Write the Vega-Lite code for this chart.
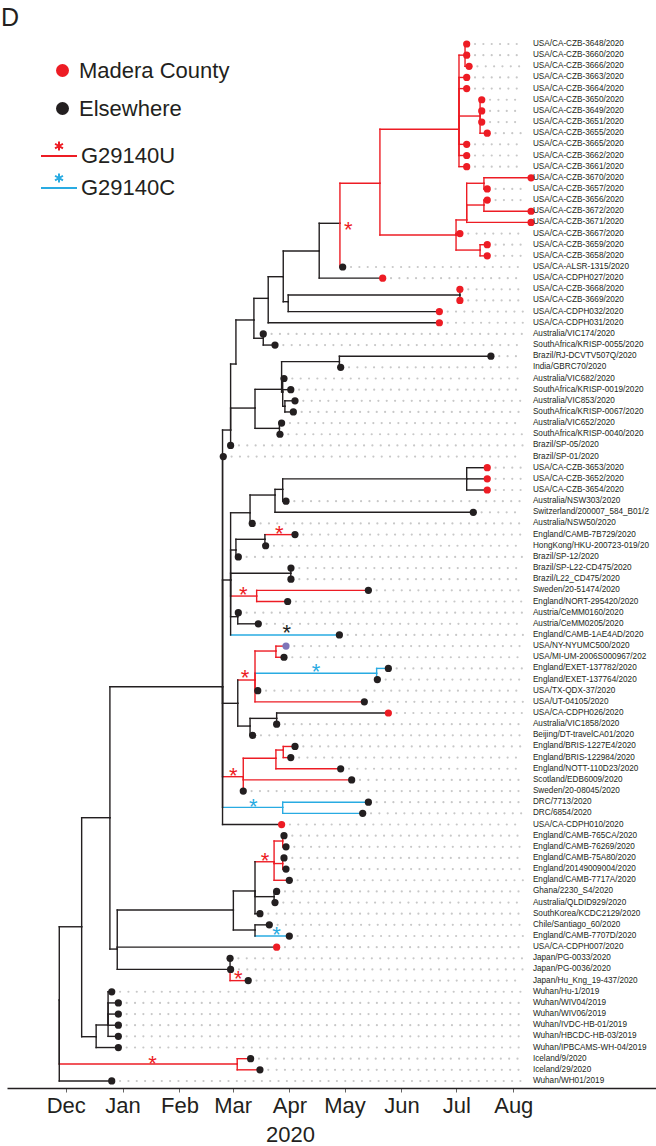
{
  "$schema": "https://vega.github.io/schema/vega-lite/v6.json",
  "width": 649,
  "height": 1058,
  "autosize": {"type": "none"},
  "padding": {"left": 7, "top": 30, "right": 0, "bottom": 58},
  "background": "white",
  "config": {"view": {"stroke": null}, "font": "Liberation Sans", "axis": {"grid": false}},
  "title": {"text": "D", "anchor": "start", "frame": "group", "fontSize": 25, "fontWeight": "normal", "color": "#231f20", "offset": -21, "baseline": "alphabetic", "dx": -6},
  "datasets": {
    "nodes": [
      {"id": "root", "t": -3.5, "y": 86.74},
      {"id": "M4", "parent": "root", "t": 8.7, "y": 80.17},
      {"id": "M2", "parent": "M4", "t": 24.1, "y": 70.39},
      {"id": "M1", "parent": "M2", "t": 85.5, "y": 58.64},
      {"id": "M3", "parent": "M2", "t": 28.1, "y": 82.17},
      {"id": "W1", "parent": "M4", "t": 16.6, "y": 90.03},
      {"id": "W2", "parent": "W1", "t": 23.1, "y": 88.98},
      {"id": "I", "parent": "root", "t": 93.5, "y": 92.48, "mut": "G29140U"},
      {"id": "N", "parent": "M3", "t": 91.4, "y": 78.67},
      {"id": "J", "parent": "M3", "t": 89.6, "y": 83.99},
      {"id": "N1", "parent": "N", "t": 103.2, "y": 76.96},
      {"id": "N2", "parent": "N", "t": 103.2, "y": 80.46},
      {"id": "R2", "parent": "N1", "t": 113.6, "y": 74.34, "mut": "G29140U"},
      {"id": "GQ", "parent": "N1", "t": 113.6, "y": 77.47},
      {"id": "S1", "parent": "R2", "t": 118.3, "y": 72.48, "mut": "G29140U"},
      {"id": "S2", "parent": "R2", "t": 118.3, "y": 74.5, "mut": "G29140U"},
      {"id": "Z2", "parent": "M1", "t": 89.9, "y": 35.62},
      {"id": "k", "parent": "M1", "t": 89.9, "y": 49.07},
      {"id": "q", "parent": "M1", "t": 93.8, "y": 60.13},
      {"id": "w", "parent": "M1", "t": 96.8, "y": 66.71, "mut": "G29140U"},
      {"id": "DRC", "parent": "M1", "t": 118.3, "y": 69.46, "mut": "G29140C"},
      {"id": "Z", "parent": "Z2", "t": 92.8, "y": 29.7},
      {"id": "X", "parent": "Z", "t": 102.6, "y": 25.75},
      {"id": "e", "parent": "Z2", "t": 103.2, "y": 33.65},
      {"id": "Wn", "parent": "X", "t": 110.4, "y": 23.81},
      {"id": "Y", "parent": "X", "t": 107.7, "y": 27.39},
      {"id": "T", "parent": "Wn", "t": 118.6, "y": 21.87},
      {"id": "S", "parent": "T", "t": 138.2, "y": 19.57},
      {"id": "V", "parent": "T", "t": 121.3, "y": 24.11},
      {"id": "R", "parent": "S", "t": 149.5, "y": 17.08},
      {"id": "P", "parent": "R", "t": 171.3, "y": 13.49, "mut": "G29140U", "vmut": "G29140U"},
      {"id": "A", "parent": "P", "t": 214.4, "y": 8.65, "mut": "G29140U"},
      {"id": "D", "parent": "P", "t": 212.8, "y": 18.13, "mut": "G29140U"},
      {"id": "B", "parent": "A", "t": 217.7, "y": 2, "mut": "G29140U"},
      {"id": "C", "parent": "A", "t": 225.9, "y": 7.46, "mut": "G29140U"},
      {"id": "G", "parent": "D", "t": 218.6, "y": 16.78, "mut": "G29140U"},
      {"id": "H", "parent": "D", "t": 225.9, "y": 19.48, "mut": "G29140U"},
      {"id": "E", "parent": "G", "t": 228.0, "y": 13.49, "mut": "G29140U"},
      {"id": "F", "parent": "G", "t": 228.0, "y": 15.44, "mut": "G29140U"},
      {"id": "U", "parent": "V", "t": 214.9, "y": 23.51},
      {"id": "b", "parent": "e", "t": 117.7, "y": 31.97},
      {"id": "f", "parent": "e", "t": 116.5, "y": 35.47},
      {"id": "a", "parent": "b", "t": 149.2, "y": 29.49},
      {"id": "d", "parent": "b", "t": 118.3, "y": 32.21},
      {"id": "c", "parent": "d", "t": 119.5, "y": 33.49},
      {"id": "j", "parent": "k", "t": 100.5, "y": 43.04},
      {"id": "i", "parent": "j", "t": 114.1, "y": 41.45},
      {"id": "g", "parent": "i", "t": 118.3, "y": 40.94},
      {"id": "h", "parent": "g", "t": 218.6, "y": 40},
      {"id": "m", "parent": "k", "t": 92.8, "y": 46.38},
      {"id": "l", "parent": "m", "t": 108.6, "y": 45.42},
      {"id": "n", "parent": "k", "t": 122.7, "y": 48.47},
      {"id": "o", "parent": "k", "t": 104.1, "y": 50.51, "mut": "G29140U"},
      {"id": "p", "parent": "k", "t": 93.8, "y": 52.36},
      {"id": "r", "parent": "q", "t": 103.2, "y": 58.04, "mut": "G29140U"},
      {"id": "s", "parent": "q", "t": 100.5, "y": 62.17},
      {"id": "tt", "parent": "r", "t": 114.6, "y": 55.44, "mut": "G29140U"},
      {"id": "u", "parent": "r", "t": 169.5, "y": 57.44, "mut": "G29140C"},
      {"id": "v", "parent": "s", "t": 115.0, "y": 61.48},
      {"id": "x1", "parent": "w", "t": 114.6, "y": 65.06, "mut": "G29140U"},
      {"id": "y1", "parent": "x1", "t": 118.6, "y": 64.32, "mut": "G29140U"},

      {"id": "USA/CA-CZB-3648/2020", "parent": "B", "t": 218.6, "y": 1, "mut": "G29140U", "loc": "Madera County"},
      {"id": "USA/CA-CZB-3660/2020", "parent": "B", "t": 218.6, "y": 2, "mut": "G29140U", "loc": "Madera County"},
      {"id": "USA/CA-CZB-3666/2020", "parent": "B", "t": 219.9, "y": 3, "mut": "G29140U", "loc": "Madera County"},
      {"id": "USA/CA-CZB-3663/2020", "parent": "A", "t": 218.6, "y": 4, "mut": "G29140U", "loc": "Madera County"},
      {"id": "USA/CA-CZB-3664/2020", "parent": "A", "t": 218.6, "y": 5, "mut": "G29140U", "loc": "Madera County"},
      {"id": "USA/CA-CZB-3650/2020", "parent": "C", "t": 226.8, "y": 6, "mut": "G29140U", "loc": "Madera County"},
      {"id": "USA/CA-CZB-3649/2020", "parent": "C", "t": 226.8, "y": 7, "mut": "G29140U", "loc": "Madera County"},
      {"id": "USA/CA-CZB-3651/2020", "parent": "C", "t": 226.8, "y": 8, "mut": "G29140U", "loc": "Madera County"},
      {"id": "USA/CA-CZB-3655/2020", "parent": "C", "t": 229.8, "y": 9, "mut": "G29140U", "loc": "Madera County"},
      {"id": "USA/CA-CZB-3665/2020", "parent": "A", "t": 218.6, "y": 10, "mut": "G29140U", "loc": "Madera County"},
      {"id": "USA/CA-CZB-3662/2020", "parent": "A", "t": 218.6, "y": 11, "mut": "G29140U", "loc": "Madera County"},
      {"id": "USA/CA-CZB-3661/2020", "parent": "A", "t": 218.6, "y": 12, "mut": "G29140U", "loc": "Madera County"},
      {"id": "USA/CA-CZB-3670/2020", "parent": "E", "t": 253.7, "y": 13, "mut": "G29140U", "loc": "Madera County"},
      {"id": "USA/CA-CZB-3657/2020", "parent": "E", "t": 229.8, "y": 14, "mut": "G29140U", "loc": "Madera County"},
      {"id": "USA/CA-CZB-3656/2020", "parent": "F", "t": 229.8, "y": 15, "mut": "G29140U", "loc": "Madera County"},
      {"id": "USA/CA-CZB-3672/2020", "parent": "F", "t": 253.7, "y": 16, "mut": "G29140U", "loc": "Madera County"},
      {"id": "USA/CA-CZB-3671/2020", "parent": "G", "t": 253.7, "y": 17, "mut": "G29140U", "loc": "Madera County"},
      {"id": "USA/CA-CZB-3667/2020", "parent": "D", "t": 214.9, "y": 18, "mut": "G29140U", "loc": "Madera County"},
      {"id": "USA/CA-CZB-3659/2020", "parent": "H", "t": 229.8, "y": 19, "mut": "G29140U", "loc": "Madera County"},
      {"id": "USA/CA-CZB-3658/2020", "parent": "H", "t": 229.8, "y": 20, "mut": "G29140U", "loc": "Madera County"},
      {"id": "USA/CA-ALSR-1315/2020", "parent": "R", "t": 151.0, "y": 21, "mut": "G29140U", "vmut": "G29140U", "loc": "Elsewhere"},
      {"id": "USA/CA-CDPH027/2020", "parent": "S", "t": 172.8, "y": 22, "loc": "Madera County"},
      {"id": "USA/CA-CZB-3668/2020", "parent": "U", "t": 214.9, "y": 23, "loc": "Madera County"},
      {"id": "USA/CA-CZB-3669/2020", "parent": "U", "t": 214.9, "y": 24, "loc": "Madera County"},
      {"id": "USA/CA-CDPH032/2020", "parent": "V", "t": 203.7, "y": 25, "loc": "Madera County"},
      {"id": "USA/CA-CDPH031/2020", "parent": "Wn", "t": 203.7, "y": 26, "loc": "Madera County"},
      {"id": "Australia/VIC174/2020", "parent": "Y", "t": 107.7, "y": 27, "loc": "Elsewhere"},
      {"id": "SouthAfrica/KRISP-0055/2020", "parent": "Y", "t": 114.1, "y": 28, "loc": "Elsewhere"},
      {"id": "Brazil/RJ-DCVTV507Q/2020", "parent": "a", "t": 231.8, "y": 29, "loc": "Elsewhere"},
      {"id": "India/GBRC70/2020", "parent": "a", "t": 149.9, "y": 30, "loc": "Elsewhere"},
      {"id": "Australia/VIC682/2020", "parent": "d", "t": 119.0, "y": 31, "loc": "Elsewhere"},
      {"id": "SouthAfrica/KRISP-0019/2020", "parent": "d", "t": 122.7, "y": 32, "loc": "Elsewhere"},
      {"id": "Australia/VIC853/2020", "parent": "c", "t": 125.0, "y": 33, "loc": "Elsewhere"},
      {"id": "SouthAfrica/KRISP-0067/2020", "parent": "c", "t": 124.1, "y": 34, "loc": "Elsewhere"},
      {"id": "Australia/VIC652/2020", "parent": "f", "t": 117.7, "y": 35, "loc": "Elsewhere"},
      {"id": "SouthAfrica/KRISP-0040/2020", "parent": "f", "t": 116.8, "y": 36, "loc": "Elsewhere"},
      {"id": "Brazil/SP-05/2020", "parent": "Z2", "t": 89.9, "y": 37, "loc": "Elsewhere"},
      {"id": "Brazil/SP-01/2020", "parent": "M1", "t": 85.9, "y": 38, "loc": "Elsewhere"},
      {"id": "USA/CA-CZB-3653/2020", "parent": "h", "t": 229.8, "y": 39, "loc": "Madera County"},
      {"id": "USA/CA-CZB-3652/2020", "parent": "h", "t": 229.8, "y": 40, "loc": "Madera County"},
      {"id": "USA/CA-CZB-3654/2020", "parent": "h", "t": 229.8, "y": 41, "loc": "Madera County"},
      {"id": "Australia/NSW303/2020", "parent": "g", "t": 120.1, "y": 42, "loc": "Elsewhere"},
      {"id": "Switzerland/200007_584_B01/2", "parent": "i", "t": 222.2, "y": 43, "loc": "Elsewhere"},
      {"id": "Australia/NSW50/2020", "parent": "j", "t": 101.7, "y": 44, "loc": "Elsewhere"},
      {"id": "England/CAMB-7B729/2020", "parent": "l", "t": 125.0, "y": 45, "mut": "G29140U", "loc": "Elsewhere"},
      {"id": "HongKong/HKU-200723-019/20", "parent": "l", "t": 109.0, "y": 46, "loc": "Elsewhere"},
      {"id": "Brazil/SP-12/2020", "parent": "m", "t": 94.1, "y": 47, "loc": "Elsewhere"},
      {"id": "Brazil/SP-L22-CD475/2020", "parent": "n", "t": 122.8, "y": 48, "loc": "Elsewhere"},
      {"id": "Brazil/L22_CD475/2020", "parent": "n", "t": 122.8, "y": 49, "loc": "Elsewhere"},
      {"id": "Sweden/20-51474/2020", "parent": "o", "t": 165.0, "y": 50, "mut": "G29140U", "loc": "Elsewhere"},
      {"id": "England/NORT-295420/2020", "parent": "o", "t": 121.0, "y": 51, "mut": "G29140U", "loc": "Elsewhere"},
      {"id": "Austria/CeMM0160/2020", "parent": "p", "t": 94.1, "y": 52, "loc": "Elsewhere"},
      {"id": "Austria/CeMM0205/2020", "parent": "p", "t": 105.0, "y": 53, "loc": "Elsewhere"},
      {"id": "England/CAMB-1AE4AD/2020", "parent": "k", "t": 149.2, "y": 54, "mut": "G29140C", "loc": "Elsewhere"},
      {"id": "USA/NY-NYUMC500/2020", "parent": "tt", "t": 120.1, "y": 55, "mut": "G29140U", "loc": "Other"},
      {"id": "USA/MI-UM-2006S000967/202", "parent": "tt", "t": 119.0, "y": 56, "mut": "G29140U", "loc": "Elsewhere"},
      {"id": "England/EXET-137782/2020", "parent": "u", "t": 175.9, "y": 57, "mut": "G29140C", "loc": "Elsewhere"},
      {"id": "England/EXET-137764/2020", "parent": "u", "t": 169.9, "y": 58, "mut": "G29140C", "loc": "Elsewhere"},
      {"id": "USA/TX-QDX-37/2020", "parent": "r", "t": 104.7, "y": 59, "mut": "G29140U", "loc": "Elsewhere"},
      {"id": "USA/UT-04105/2020", "parent": "r", "t": 162.8, "y": 60, "mut": "G29140U", "loc": "Elsewhere"},
      {"id": "USA/CA-CDPH026/2020", "parent": "v", "t": 175.9, "y": 61, "loc": "Madera County"},
      {"id": "Australia/VIC1858/2020", "parent": "v", "t": 115.0, "y": 62, "loc": "Elsewhere"},
      {"id": "Beijing/DT-travelCA01/2020", "parent": "s", "t": 101.9, "y": 63, "loc": "Elsewhere"},
      {"id": "England/BRIS-1227E4/2020", "parent": "y1", "t": 125.0, "y": 64, "mut": "G29140U", "loc": "Elsewhere"},
      {"id": "England/BRIS-122984/2020", "parent": "y1", "t": 122.7, "y": 65, "mut": "G29140U", "loc": "Elsewhere"},
      {"id": "England/NOTT-110D23/2020", "parent": "x1", "t": 149.9, "y": 66, "mut": "G29140U", "loc": "Elsewhere"},
      {"id": "Scotland/EDB6009/2020", "parent": "w", "t": 155.9, "y": 67, "mut": "G29140U", "loc": "Elsewhere"},
      {"id": "Sweden/20-08045/2020", "parent": "w", "t": 96.8, "y": 68, "mut": "G29140U", "loc": "Elsewhere"},
      {"id": "DRC/7713/2020", "parent": "DRC", "t": 165.0, "y": 69, "mut": "G29140C", "loc": "Elsewhere"},
      {"id": "DRC/6854/2020", "parent": "DRC", "t": 161.9, "y": 70, "mut": "G29140C", "loc": "Elsewhere"},
      {"id": "USA/CA-CDPH010/2020", "parent": "M1", "t": 117.7, "y": 71, "loc": "Madera County"},
      {"id": "England/CAMB-765CA/2020", "parent": "S1", "t": 119.0, "y": 72, "mut": "G29140U", "loc": "Elsewhere"},
      {"id": "England/CAMB-76269/2020", "parent": "S1", "t": 120.1, "y": 73, "mut": "G29140U", "loc": "Elsewhere"},
      {"id": "England/CAMB-75A80/2020", "parent": "S2", "t": 119.0, "y": 74, "mut": "G29140U", "loc": "Elsewhere"},
      {"id": "England/20149009004/2020", "parent": "S2", "t": 120.1, "y": 75, "mut": "G29140U", "loc": "Elsewhere"},
      {"id": "England/CAMB-7717A/2020", "parent": "R2", "t": 121.9, "y": 76, "mut": "G29140U", "loc": "Elsewhere"},
      {"id": "Ghana/2230_S4/2020", "parent": "GQ", "t": 115.0, "y": 77, "loc": "Elsewhere"},
      {"id": "Australia/QLDID929/2020", "parent": "GQ", "t": 114.1, "y": 78, "loc": "Elsewhere"},
      {"id": "SouthKorea/KCDC2129/2020", "parent": "N1", "t": 105.9, "y": 79, "loc": "Elsewhere"},
      {"id": "Chile/Santiago_60/2020", "parent": "N2", "t": 111.0, "y": 80, "loc": "Elsewhere"},
      {"id": "England/CAMB-7707D/2020", "parent": "N2", "t": 121.9, "y": 81, "mut": "G29140C", "loc": "Elsewhere"},
      {"id": "USA/CA-CDPH007/2020", "parent": "M3", "t": 115.0, "y": 82, "loc": "Madera County"},
      {"id": "Japan/PG-0033/2020", "parent": "J", "t": 89.6, "y": 83, "loc": "Elsewhere"},
      {"id": "Japan/PG-0036/2020", "parent": "J", "t": 89.9, "y": 84, "loc": "Elsewhere"},
      {"id": "Japan/Hu_Kng_19-437/2020", "parent": "J", "t": 99.5, "y": 85, "mut": "G29140U", "vmut": "G29140U", "loc": "Elsewhere"},
      {"id": "Wuhan/Hu-1/2019", "parent": "W2", "t": 25.1, "y": 86, "loc": "Elsewhere"},
      {"id": "Wuhan/WIV04/2019", "parent": "W2", "t": 28.7, "y": 87, "loc": "Elsewhere"},
      {"id": "Wuhan/WIV06/2019", "parent": "W2", "t": 28.7, "y": 88, "loc": "Elsewhere"},
      {"id": "Wuhan/IVDC-HB-01/2019", "parent": "W2", "t": 28.7, "y": 89, "loc": "Elsewhere"},
      {"id": "Wuhan/HBCDC-HB-03/2019", "parent": "W2", "t": 28.7, "y": 90, "loc": "Elsewhere"},
      {"id": "Wuhan/IPBCAMS-WH-04/2019", "parent": "W1", "t": 28.7, "y": 91, "loc": "Elsewhere"},
      {"id": "Iceland/9/2020", "parent": "I", "t": 100.8, "y": 92, "mut": "G29140U", "loc": "Elsewhere"},
      {"id": "Iceland/29/2020", "parent": "I", "t": 105.9, "y": 93, "mut": "G29140U", "loc": "Elsewhere"},
      {"id": "Wuhan/WH01/2019", "parent": "root", "t": 25.1, "y": 94, "loc": "Elsewhere"}
    ],
    "muts": [
      {"t": 154.1, "y": 17.23, "mut": "G29140U"},
      {"t": 116.4, "y": 44.52, "mut": "G29140U"},
      {"t": 96.8, "y": 49.97, "mut": "G29140U"},
      {"t": 120.5, "y": 53.4, "mut": "other"},
      {"t": 97.8, "y": 57.44, "mut": "G29140U"},
      {"t": 136.4, "y": 56.9, "mut": "G29140C"},
      {"t": 91.4, "y": 66.2, "mut": "G29140U"},
      {"t": 102.3, "y": 68.96, "mut": "G29140C"},
      {"t": 108.6, "y": 73.83, "mut": "G29140U"},
      {"t": 115.0, "y": 80.46, "mut": "G29140C"},
      {"t": 94.1, "y": 84.41, "mut": "G29140U"},
      {"t": 47.4, "y": 92.03, "mut": "G29140U"}
    ]
  },
  "layer": [
    {
      "data": {"name": "nodes"},
      "transform": [{"filter": "datum.loc"}],
      "mark": {"type": "rule", "color": "#c8c8c8", "strokeWidth": 2.2, "strokeCap": "round", "strokeDash": [0.01, 8.33]},
      "encoding": {
        "x": {"field": "t", "type": "quantitative", "scale": {"domain": [-32, 321.8], "nice": false, "zero": false},
          "axis": {"values": [0, 31, 62, 91, 122, 152, 183, 213, 244], "labelExpr": "['Dec','Jan','Feb','Mar','Apr','May','Jun','Jul','Aug'][indexof([0,31,62,91,122,152,183,213,244], datum.value)]", "title": "2020", "domainColor": "#231f20", "domainWidth": 1.5, "tickColor": "#666666", "tickSize": 4, "tickWidth": 1, "labelFontSize": 22, "labelFont": "Liberation Sans", "labelColor": "#231f20", "labelPadding": 3, "labelFlush": false, "labelOverlap": false, "titleFontSize": 22, "titleFont": "Liberation Sans", "titleFontWeight": "normal", "titleColor": "#231f20", "titleX": 283, "titleY": 53, "titleBaseline": "alphabetic", "titleAlign": "center"}},
        "x2": {"datum": 249.45},
        "y": {"field": "y", "type": "quantitative", "scale": {"domain": [-0.256, 94.63], "reverse": true, "nice": false, "zero": false}, "axis": null}
      }
    },
    {
      "data": {"name": "nodes"},
      "transform": [
        {"filter": "datum.parent"},
        {"lookup": "parent", "from": {"data": {"name": "nodes"}, "key": "id", "fields": ["t", "y", "mut"]}, "as": ["pt", "py", "pmut"]},
        {"calculate": "datum.mut ? datum.mut : 'none'", "as": "hmut"}
      ],
      "mark": {"type": "rule", "strokeWidth": 1.4, "strokeCap": "square"},
      "encoding": {
        "x": {"field": "pt", "type": "quantitative"},
        "x2": {"field": "t"},
        "y": {"field": "y", "type": "quantitative"},
        "stroke": {"field": "hmut", "type": "nominal",
          "scale": {"domain": ["G29140U", "G29140C", "none"], "range": ["#ed1c24", "#29abe2", "#231f20"]},
          "legend": {"title": null, "orient": "none", "legendX": 33, "legendY": 107, "padding": 0, "values": ["G29140U", "G29140C"], "symbolType": "M-1,0H1M0,-0.8V-0.3M-0.22,-0.68L0.22,-0.42M0.22,-0.68L-0.22,-0.42", "symbolSize": 1296, "symbolStrokeWidth": 2, "labelFontSize": 22, "labelFont": "Liberation Sans", "labelColor": "#231f20", "labelOffset": 3, "rowPadding": 2}}
      }
    },
    {
      "data": {"name": "nodes"},
      "transform": [
        {"filter": "datum.parent"},
        {"lookup": "parent", "from": {"data": {"name": "nodes"}, "key": "id", "fields": ["t", "y", "mut"]}, "as": ["pt", "py", "pmut"]},
        {"calculate": "datum.vmut ? datum.vmut : (datum.pmut ? datum.pmut : 'none')", "as": "vcol"}
      ],
      "mark": {"type": "rule", "strokeWidth": 1.4, "strokeCap": "square"},
      "encoding": {
        "x": {"field": "pt", "type": "quantitative"},
        "y": {"field": "py", "type": "quantitative"},
        "y2": {"field": "y"},
        "stroke": {"field": "vcol", "type": "nominal",
          "scale": {"domain": ["G29140U", "G29140C", "none"], "range": ["#ed1c24", "#29abe2", "#231f20"]},
          "legend": {"title": null, "orient": "none", "legendX": 33, "legendY": 107, "padding": 0, "values": ["G29140U", "G29140C"], "symbolType": "M-1,0H1M0,-0.8V-0.3M-0.22,-0.68L0.22,-0.42M0.22,-0.68L-0.22,-0.42", "symbolSize": 1296, "symbolStrokeWidth": 2, "labelFontSize": 22, "labelFont": "Liberation Sans", "labelColor": "#231f20", "labelOffset": 3, "rowPadding": 2}}
      }
    },
    {
      "data": {"name": "nodes"},
      "transform": [{"filter": "datum.loc"}],
      "mark": {"type": "circle", "size": 52, "opacity": 1, "strokeWidth": 0},
      "encoding": {
        "x": {"field": "t", "type": "quantitative"},
        "y": {"field": "y", "type": "quantitative"},
        "fill": {"field": "loc", "type": "nominal",
          "scale": {"domain": ["Madera County", "Elsewhere", "Other"], "range": ["#ed1c24", "#231f20", "#7f75b8"]},
          "legend": {"title": null, "orient": "none", "legendX": 44.5, "legendY": 29.5, "padding": 0, "values": ["Madera County", "Elsewhere"], "symbolType": "circle", "symbolSize": 169, "symbolStrokeWidth": 0, "labelFontSize": 22, "labelFont": "Liberation Sans", "labelColor": "#231f20", "labelOffset": 5.5, "rowPadding": 16}}
      }
    },
    {
      "data": {"name": "nodes"},
      "transform": [{"filter": "datum.loc"}],
      "mark": {"type": "text", "align": "left", "baseline": "middle", "fontSize": 8.2, "font": "Liberation Sans", "color": "#231f20"},
      "encoding": {
        "x": {"datum": 254.7, "type": "quantitative"},
        "y": {"field": "y", "type": "quantitative"},
        "text": {"field": "id"}
      }
    },
    {
      "data": {"name": "muts"},
      "mark": {"type": "text", "text": "*", "align": "center", "baseline": "alphabetic", "dy": 12, "fontSize": 22, "font": "Liberation Sans"},
      "encoding": {
        "x": {"field": "t", "type": "quantitative"},
        "y": {"field": "y", "type": "quantitative"},
        "color": {"field": "mut", "type": "nominal", "scale": {"domain": ["G29140U", "G29140C", "other"], "range": ["#ed1c24", "#29abe2", "#231f20"]}, "legend": null}
      }
    }
  ]
}
